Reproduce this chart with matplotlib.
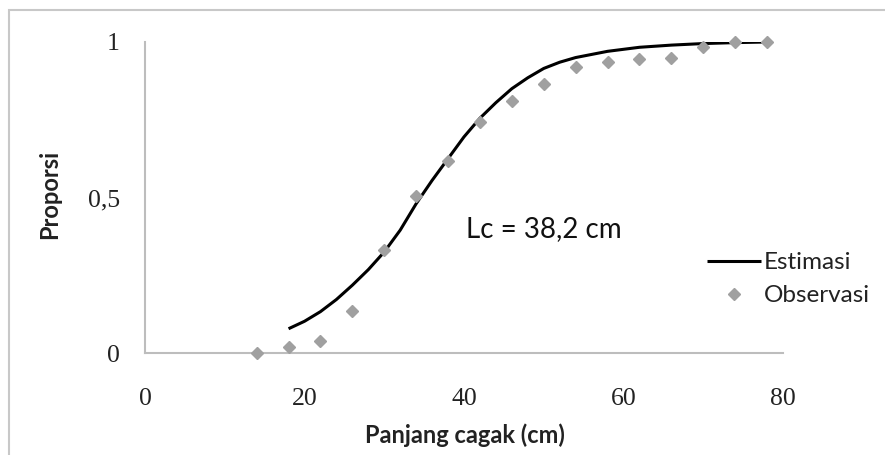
import matplotlib
matplotlib.use("Agg")
import matplotlib.pyplot as plt
from matplotlib.patches import Rectangle

# Data
obs_x = [14, 18, 22, 26, 30, 34, 38, 42, 46, 50, 54, 58, 62, 66, 70, 74, 78]
obs_y = [0.0, 0.02, 0.04, 0.135, 0.33, 0.505, 0.617, 0.743, 0.81, 0.865,
         0.92, 0.935, 0.945, 0.95, 0.985, 1.0, 1.0]
est_x = [18, 20, 22, 24, 26, 28, 30, 32, 34, 36, 38, 40, 42, 44, 46, 48, 50,
         52, 54, 58, 62, 66, 70, 74, 78]
est_y = [0.078, 0.102, 0.133, 0.172, 0.218, 0.268, 0.325, 0.395, 0.480, 0.555,
         0.625, 0.695, 0.755, 0.805, 0.850, 0.885, 0.915, 0.935, 0.950, 0.970,
         0.983, 0.990, 0.995, 0.998, 1.0]
x_ticks = [0, 20, 40, 60, 80]
y_ticks = [0, 0.5, 1]
y_tick_labels = ["0", "0,5", "1"]
lc_text = "Lc = 38,2 cm"

fig = plt.figure(figsize=(8.85, 4.55), dpi=100)
fig.patches.append(Rectangle((9 / 885, -0.05), 1.1, 0.05 + (455 - 10) / 455,
                             transform=fig.transFigure, fill=False,
                             edgecolor="#c8c8c8", linewidth=1.5))

ax = fig.add_axes([145 / 885, (455 - 353) / 455, 638 / 885, 311 / 455])
ax.set_xlim(0, 80)
ax.set_ylim(0, 1)

ax.plot(est_x, est_y, color="black", linewidth=2.2, label="Estimasi",
        solid_capstyle="butt", zorder=3)
ax.plot(obs_x, obs_y, linestyle="none", marker="D", markersize=6.5,
        color="#a0a0a0", markeredgecolor="#a0a0a0", label="Observasi",
        clip_on=False, zorder=4)

for s in ["top", "right"]:
    ax.spines[s].set_visible(False)
for s in ["left", "bottom"]:
    ax.spines[s].set_color("#bdbdbd")
    ax.spines[s].set_linewidth(1.5)

ax.set_xticks(x_ticks)
ax.set_xticklabels([str(v) for v in x_ticks], family="Liberation Serif", fontsize=18.5, color="#222222")
ax.set_yticks(y_ticks)
ax.set_yticklabels(y_tick_labels, family="Liberation Serif", fontsize=18.5, color="#222222")
ax.tick_params(axis="both", length=0)
ax.tick_params(axis="x", pad=25)
ax.tick_params(axis="y", pad=18)

ax.set_xlabel("Panjang cagak (cm)", family="Lato", fontweight="bold", fontsize=17,
              color="#222222")
ax.set_ylabel("Proporsi", family="Lato", fontweight="bold", fontsize=17,
              color="#222222")
ax.xaxis.label.set_va("center")
ax.yaxis.label.set_va("center")
ax.xaxis.set_label_coords(0.5016, -0.264)
ax.yaxis.set_label_coords(-0.149, 0.511)

ax.text(40.3, 0.40, lc_text, family="Lato", fontsize=20, color="#111111",
        va="center", ha="left")

leg = ax.legend(loc="center left", bbox_to_anchor=(0.881, 0.237), frameon=False,
                prop={"family": "Lato", "size": 17.5}, handlelength=2.2,
                handletextpad=0.15, labelspacing=0.5, borderaxespad=0, borderpad=0)
for t in leg.get_texts():
    t.set_color("#222222")

fig.savefig("out.png", dpi=100)
